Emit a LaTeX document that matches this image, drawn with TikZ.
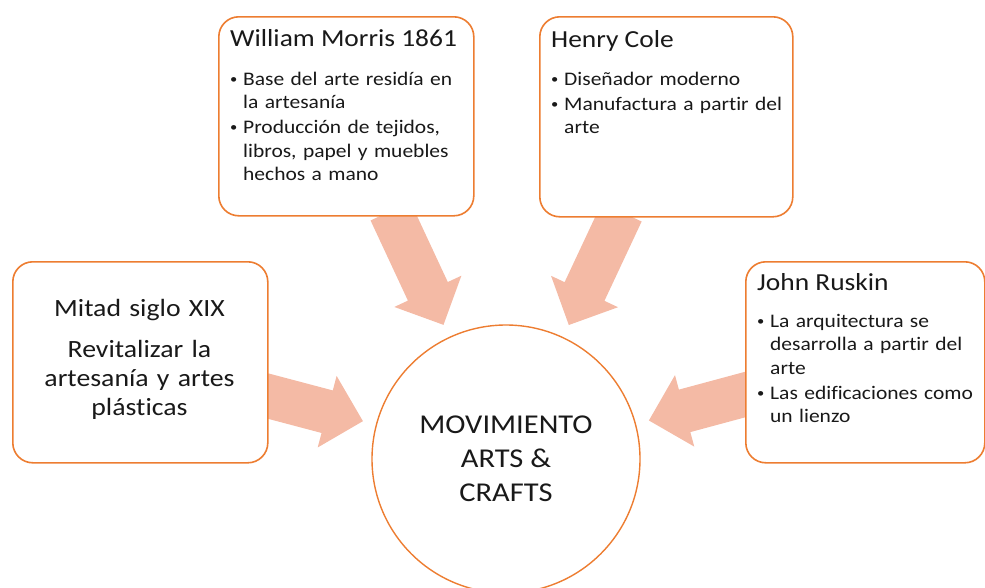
\documentclass[tikz,border=0pt]{standalone}
\usepackage{fontspec}
\setmainfont{Carlito}[FakeStretch=1.12, Ligatures={NoCommon}]
\usetikzlibrary{calc}
\pgfdeclarelayer{background}
\pgfsetlayers{background,main}
\definecolor{boxline}{RGB}{237,125,49}
\definecolor{arrowfill}{RGB}{244,186,165}
\definecolor{txt}{RGB}{25,25,25}
\newcommand\bulx{\makebox[13pt][l]{\raisebox{1.6pt}{\fontsize{13}{13}\selectfont •}}}
\newcommand\indx{\hspace*{13pt}}
% block arrow from node #1 towards node #2, name prefix #3
\newcommand\blockarr[3]{%
  \path (#1) -- coordinate[pos=0] (#3s) (#2);
  \coordinate (#3t) at ($(#2.center)!148pt!(#3s)$);
  \coordinate (#3a) at ($(#3s)!-6pt!(#3t)$);
  \coordinate (#3b) at ($(#3t)!37pt!(#3s)$);
  \begin{pgfonlayer}{background}
  \fill[arrowfill] ($(#3a)!22pt!90:(#3t)$) -- ($(#3b)!22pt!90:(#3t)$)
    -- ($(#3b)!37pt!90:(#3t)$) -- (#3t) -- ($(#3b)!37pt!-90:(#3t)$)
    -- ($(#3b)!22pt!-90:(#3t)$) -- ($(#3a)!22pt!-90:(#3t)$) -- cycle;
  \end{pgfonlayer}}
\begin{document}
\begin{tikzpicture}[x=1pt,y=-1pt,
  box/.style={draw=boxline, line width=1.6pt, rounded corners=20pt, fill=white,
    anchor=north west, inner sep=0pt},
  ttl/.style={anchor=base west, inner sep=0pt, text=txt,
    font=\fontsize{24.5}{29}\selectfont},
  bul/.style={anchor=base west, inner sep=0pt, text=txt, align=left,
    text width=235pt, font=\fontsize{19.2}{23.5}\selectfont}]
\useasboundingbox (0,0) rectangle (985,587);
\clip (0,0) rectangle (985,587);
% boxes
\node[box, minimum width=255pt, minimum height=201pt] (lb) at (12,261) {};
\node[box, minimum width=255pt, minimum height=199pt] (wm) at (218,16) {};
\node[box, minimum width=253pt, minimum height=200pt] (hc) at (539,16) {};
\node[box, minimum width=239pt, minimum height=201pt] (jr) at (745,261) {};
% centre circle
\node[draw=boxline, line width=1.4pt, circle, minimum size=268pt, fill=white,
  inner sep=0pt, text=txt, align=center,
  font=\fontsize{27.2}{34}\selectfont] (mv) at (506,459)
  {MOVIMIENTO\\ARTS \&\\CRAFTS};
% arrows
\blockarr{lb}{mv}{ar1}
\blockarr{wm}{mv}{ar2}
\blockarr{hc}{mv}{ar3}
\blockarr{jr}{mv}{ar4}
% left box text
\node[anchor=base, inner sep=0pt, text=txt, align=center, text width=240pt,
  font=\fontsize{24.8}{29}\selectfont] (lt) at (139.5,316)
  {Mitad siglo XIX\\[12pt]Revitalizar la\\artesanía y artes\\plásticas};
% William Morris
\node[ttl] (wmt) at (230,46) {William Morris 1861};
\node[bul] (wmb) at (230,85) {\bulx Base del arte residía en\\\indx la artesanía\\[1.5pt]%
  \bulx Producción de tejidos,\\\indx libros, papel y muebles\\\indx hechos a mano};
% Henry Cole
\node[ttl] (hct) at (551,47) {Henry Cole};
\node[bul] (hcb) at (551,85) {\bulx Diseñador moderno\\[1.5pt]%
  \bulx Manufactura a partir del\\\indx arte};
% John Ruskin
\node[ttl] (jrt) at (757,290) {John Ruskin};
\node[bul] (jrb) at (757,327) {\bulx La arquitectura se\\\indx desarrolla a partir del\\\indx arte\\[1.5pt]%
  \bulx Las edificaciones como\\\indx un lienzo};
\end{tikzpicture}
\end{document}
